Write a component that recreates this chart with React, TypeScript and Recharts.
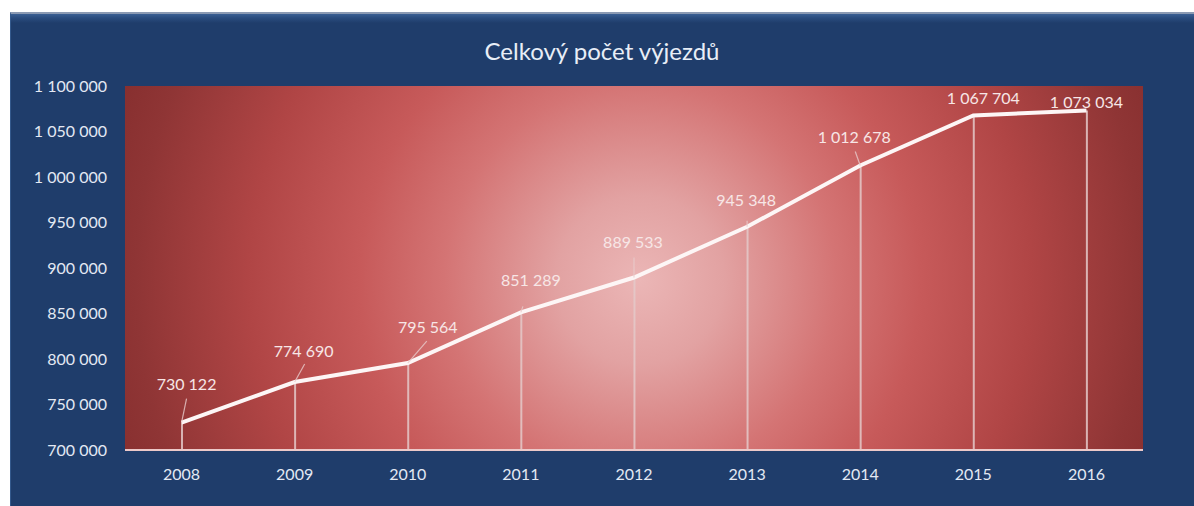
import React from 'react';
import {
  ComposedChart,
  Line,
  Bar,
  XAxis,
  YAxis,
  CartesianGrid,
  LabelList,
} from 'recharts';

const YEARS = ['2008', '2009', '2010', '2011', '2012', '2013', '2014', '2015', '2016'];
const TRIPS = [730122, 774690, 795564, 851289, 889533, 945348, 1012678, 1067704, 1073034];
const Y_TICKS = [700000, 750000, 800000, 850000, 900000, 950000, 1000000, 1050000, 1100000];

// where each value label sits relative to its point, and where its leader line starts
const LABEL_NUDGE = [
  { dx: 5, dy: -38, lx: 5, ly: -24 },
  { dx: 9, dy: -31, lx: 10, ly: -18 },
  { dx: 20, dy: -36, lx: 19, ly: -22 },
  { dx: 10, dy: -32, lx: 2, ly: -6 },
  { dx: -1, dy: -35, lx: 0, ly: -20 },
  { dx: -1, dy: -26, lx: 0, ly: -6 },
  { dx: -6, dy: -28, lx: -5, ly: -14 },
  { dx: 10, dy: -17, lx: null, ly: null },
  { dx: 0, dy: -8, lx: null, ly: null },
];

const data = YEARS.map((year, i) => ({ year, trips: TRIPS[i] }));

const FONT = 'Lato, "Open Sans", sans-serif';

const fmt = (v: number) => String(v).replace(/\B(?=(\d{3})+(?!\d))/g, ' ');

const ValueLabel = (props: any) => {
  const { x, y, value, index } = props;
  const n = LABEL_NUDGE[index] || { dx: 0, dy: -20, lx: null, ly: null };
  return (
    <g>
      {n.lx !== null && (
        <line
          x1={x + n.lx}
          y1={y + n.ly}
          x2={x}
          y2={y}
          stroke="#e8cccc"
          strokeOpacity={0.8}
          strokeWidth={1.2}
        />
      )}
      <text
        x={x + n.dx}
        y={y + n.dy}
        dy="0.36em"
        textAnchor="middle"
        fill="#f7e6e6"
        fontSize={16}
        fontFamily={FONT}
      >
        {fmt(value)}
      </text>
    </g>
  );
};

export default function App() {
  return (
    <div
      style={{
        position: 'absolute',
        left: 0,
        top: 0,
        width: 1194,
        height: 506,
        background: '#ffffff',
        overflow: 'hidden',
        fontFamily: FONT,
      }}
    >
      <div
        style={{
          position: 'absolute',
          left: 10,
          top: 12,
          width: 1184,
          height: 494,
          background: 'linear-gradient(to bottom, #3a5f93 0px, #2a4c7e 4px, #1f3d6b 9px, #1f3d6b 100%)',
          borderTop: '2px solid #8b9ab3',
          borderLeft: '1px solid #34598c',
          boxSizing: 'border-box',
        }}
      />
      <div
        style={{
          position: 'absolute',
          left: 10,
          width: 1184,
          top: 39,
          fontSize: 24,
          lineHeight: '24px',
          color: '#e8eef7',
          textAlign: 'center',
        }}
      >
        Celkový počet výjezdů
      </div>
      <div style={{ position: 'absolute', left: 0, top: 0 }}>
        <ComposedChart
          width={1194}
          height={506}
          data={data}
          margin={{ top: 86, right: 51, bottom: 0, left: 0 }}
        >
          <defs>
            <radialGradient id="plotBg" gradientUnits="userSpaceOnUse" cx={640} cy={280} r={560}>
              <stop offset="0%" stopColor="#ebb6b6" />
              <stop offset="15%" stopColor="#e2a2a2" />
              <stop offset="35%" stopColor="#d47474" />
              <stop offset="50%" stopColor="#c75a5a" />
              <stop offset="70%" stopColor="#b04545" />
              <stop offset="90%" stopColor="#8f3535" />
              <stop offset="100%" stopColor="#862e2e" />
            </radialGradient>
          </defs>
          <CartesianGrid horizontal={false} vertical={false} fill="url(#plotBg)" fillOpacity={1} />
          <XAxis
            dataKey="year"
            axisLine={{ stroke: '#ecc9c9', strokeWidth: 2 }}
            tickLine={false}
            tickSize={0}
            tickMargin={19}
            height={56}
            tick={{ fill: '#e3e9f3', fontSize: 16, fontFamily: FONT }}
          />
          <YAxis
            domain={[700000, 1100000]}
            ticks={Y_TICKS}
            tickFormatter={fmt}
            axisLine={false}
            tickLine={false}
            tickSize={0}
            tickMargin={18}
            width={125}
            interval={0}
            tick={{ fill: '#e3e9f3', fontSize: 16, fontFamily: FONT }}
          />
          <Bar dataKey="trips" barSize={2} fill="#e4c9c9" fillOpacity={0.85} isAnimationActive={false} />
          <Line
            type="linear"
            dataKey="trips"
            stroke="#fdf6f6"
            strokeWidth={4}
            dot={false}
            isAnimationActive={false}
          >
            <LabelList dataKey="trips" content={ValueLabel} />
          </Line>
        </ComposedChart>
      </div>
    </div>
  );
}
